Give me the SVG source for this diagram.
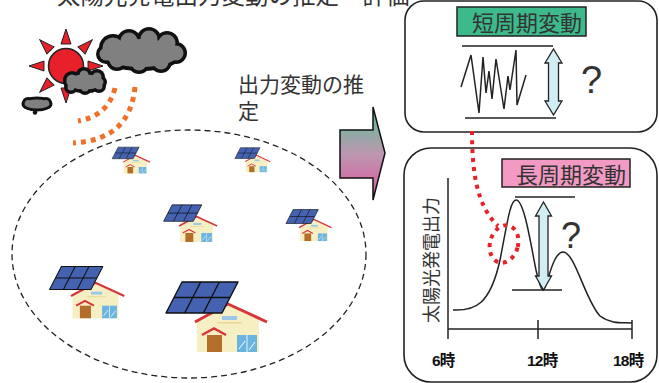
<svg xmlns="http://www.w3.org/2000/svg" xmlns:xlink="http://www.w3.org/1999/xlink" width="659" height="383" viewBox="0 0 659 383">
  <style>
    .jp { font-family: "Noto Sans CJK JP", "Noto Sans", sans-serif; fill: #333; }
    .box { fill: #fff; stroke: #222; stroke-width: 1.6; }
    .ln { stroke: #222; stroke-width: 1.5; fill: none; }
    .dbl { fill: #d3edf4; stroke: #222; stroke-width: 1.3; stroke-linejoin: miter; }
    .q { font-family: "Liberation Sans", "DejaVu Sans", sans-serif; fill: #333; }
    .tm { font-family: "Liberation Sans", "Noto Sans CJK JP", sans-serif; font-weight: bold; font-size: 15.5px; fill: #111; letter-spacing: -0.8px; }
    .cloud-o { fill: #111; }
    .cloud-f { fill: #808080; }
    .ray { fill: #e8202a; stroke: #222; stroke-width: 1; stroke-linejoin: miter; }
    .light { fill: none; stroke: #f07028; stroke-width: 5; stroke-dasharray: 5 5; }
    .red-dot { fill: none; stroke: #e8202a; stroke-width: 4; stroke-dasharray: 4 5; }
  </style>
  <defs>
    <linearGradient id="arrowGrad" x1="0" y1="0" x2="0" y2="1">
      <stop offset="0" stop-color="#55bf94"/>
      <stop offset="0.5" stop-color="#bc98b0"/>
      <stop offset="1" stop-color="#dc559f"/>
    </linearGradient>
    <!-- house with rooftop solar panel, drawn at full size (house 72 x 49) -->
    <g id="house">
      <polygon points="2,18 33,2 64,17 64,49 2,49" fill="#f7efc4"/>
      <rect x="22" y="19" width="25" height="1.6" fill="#eadb98"/>
      <rect x="27" y="13" width="15" height="4" fill="#9cc8e8"/>
      <polyline points="0,19 33,1 72,19" fill="none" stroke="#d8353a" stroke-width="3" stroke-linejoin="round"/>
      <rect x="12" y="32" width="15" height="17" fill="#b36e2a"/>
      <polyline points="7,32 19,25.5 31,32" fill="none" stroke="#d8353a" stroke-width="2.5"/>
      <rect x="42" y="32" width="20" height="17" fill="#6cb4e0"/>
      <line x1="52" y1="32" x2="52" y2="49" stroke="#e8f4fb" stroke-width="1"/>
      <line x1="44" y1="46" x2="50" y2="38" stroke="#fff" stroke-width="1"/>
      <line x1="54" y1="47" x2="60" y2="39" stroke="#fff" stroke-width="1"/>
      <polygon points="-13,-21 43,-21 27,10 -29,10" fill="#4462b0" stroke="#111" stroke-width="1.4" stroke-linejoin="round"/>
      <line x1="5.67" y1="-21" x2="-10.33" y2="10" stroke="#111" stroke-width="1.4"/>
      <line x1="24.33" y1="-21" x2="8.33" y2="10" stroke="#111" stroke-width="1.4"/>
      <line x1="-21" y1="-5.5" x2="35" y2="-5.5" stroke="#111" stroke-width="1.4"/>
    </g>
  </defs>

  <rect width="659" height="383" fill="#fff"/>

  <!-- title line, clipped by the top edge -->
  <g id="title">
    <text class="jp" x="57" y="3.5" font-size="23.5">太陽光発電出力変動の推定・評価</text>
  </g>

  <!-- sun, clouds and light rays -->
  <g id="weather">
    <g id="sun">
      <polygon class="ray" points="66,29 61,44 71,44"/>
      <polygon class="ray" points="66,29 61,44 71,44" transform="rotate(45 66 66)"/>
      <polygon class="ray" points="66,29 61,44 71,44" transform="rotate(90 66 66)"/>
      <polygon class="ray" points="66,29 61,44 71,44" transform="rotate(135 66 66)"/>
      <polygon class="ray" points="66,29 61,44 71,44" transform="rotate(180 66 66)"/>
      <polygon class="ray" points="66,29 61,44 71,44" transform="rotate(225 66 66)"/>
      <polygon class="ray" points="66,29 61,44 71,44" transform="rotate(270 66 66)"/>
      <polygon class="ray" points="66,29 61,44 71,44" transform="rotate(315 66 66)"/>
      <circle cx="66" cy="66" r="17.5" fill="#e8202a" stroke="#222" stroke-width="1.5"/>
    </g>
    <g id="cloud-big">
      <g class="cloud-o">
        <ellipse cx="141" cy="53" rx="43" ry="18"/>
        <circle cx="113" cy="48" r="14"/>
        <circle cx="129" cy="41" r="12"/>
        <circle cx="149" cy="39" r="12"/>
        <circle cx="167" cy="43" r="12"/>
        <circle cx="176" cy="53" r="11"/>
        <circle cx="161" cy="62" r="11"/>
        <circle cx="139" cy="63" r="11"/>
        <circle cx="117" cy="60" r="11"/>
        <circle cx="106" cy="54" r="10"/>
      </g>
      <g class="cloud-f">
        <ellipse cx="141" cy="53" rx="39" ry="14"/>
        <circle cx="113" cy="48" r="10.5"/>
        <circle cx="129" cy="41" r="8.5"/>
        <circle cx="149" cy="39" r="8.5"/>
        <circle cx="167" cy="43" r="8.5"/>
        <circle cx="176" cy="53" r="7.5"/>
        <circle cx="161" cy="62" r="7.5"/>
        <circle cx="139" cy="63" r="7.5"/>
        <circle cx="117" cy="60" r="7.5"/>
        <circle cx="106" cy="54" r="6.5"/>
      </g>
    </g>
    <g id="cloud-small">
      <g class="cloud-o">
        <ellipse cx="85" cy="82" rx="22" ry="11"/>
        <circle cx="72" cy="80" r="9"/>
        <circle cx="84" cy="75" r="8"/>
        <circle cx="97" cy="77" r="8"/>
        <circle cx="99" cy="86" r="7"/>
        <circle cx="85" cy="88" r="7"/>
        <circle cx="71" cy="87" r="7"/>
      </g>
      <g class="cloud-f">
        <ellipse cx="85" cy="82" rx="18.5" ry="7.5"/>
        <circle cx="72" cy="80" r="5.5"/>
        <circle cx="84" cy="75" r="4.5"/>
        <circle cx="97" cy="77" r="4.5"/>
        <circle cx="99" cy="86" r="3.5"/>
        <circle cx="85" cy="88" r="3.5"/>
        <circle cx="71" cy="87" r="3.5"/>
      </g>
    </g>
    <g id="cloud-tiny">
      <g class="cloud-o">
        <ellipse cx="37" cy="104" rx="15.5" ry="7.5"/>
        <circle cx="28" cy="103" r="6"/>
        <circle cx="46" cy="103" r="6"/>
        <circle cx="35" cy="112.5" r="2.2"/>
      </g>
      <g class="cloud-f">
        <ellipse cx="37" cy="104" rx="12.5" ry="4.5"/>
        <circle cx="28" cy="103" r="3"/>
        <circle cx="46" cy="103" r="3"/>
      </g>
    </g>
    <path class="light" d="M115,88 Q108,116 78,121"/>
    <path class="light" d="M135,87 Q130,140 73,143"/>
  </g>

  <!-- estimate label -->
  <g id="estimate-label">
    <text class="jp" x="238" y="92" font-size="21">出力変動の推</text>
    <text class="jp" x="238" y="119" font-size="21">定</text>
  </g>

  <!-- area with houses -->
  <g id="area">
    <ellipse cx="189" cy="254" rx="177" ry="124" fill="none" stroke="#222" stroke-width="1.3" stroke-dasharray="6 4"/>
    <use id="house-1" xlink:href="#house" transform="translate(123,155) scale(0.375)"/>
    <use id="house-2" xlink:href="#house" transform="translate(245,155) scale(0.35)"/>
    <use id="house-3" xlink:href="#house" transform="translate(179,216) scale(0.53)"/>
    <use id="house-4" xlink:href="#house" transform="translate(299,219) scale(0.45)"/>
    <use id="house-5" xlink:href="#house" transform="translate(71,282) scale(0.74)"/>
    <use id="house-6" xlink:href="#house" transform="translate(195,303) scale(1)"/>
  </g>

  <!-- block arrow -->
  <g id="block-arrow">
    <polygon points="340,130 373,130 373,107 385,153 373,200 373,178 340,178" fill="url(#arrowGrad)" stroke="#111" stroke-width="1.5" stroke-linejoin="miter"/>
  </g>

  <!-- short-period fluctuation panel -->
  <g id="short-term">
    <rect class="box" x="405" y="1" width="252" height="131" rx="19"/>
    <rect x="457" y="7" width="129" height="29" fill="#3dba8c" stroke="#222" stroke-width="1.5"/>
    <text class="jp" x="472" y="31" font-size="22">短周期変動</text>
    <line class="ln" x1="462" y1="46" x2="553" y2="46"/>
    <line class="ln" x1="465" y1="118" x2="556" y2="118"/>
    <polyline class="ln" stroke-linejoin="miter" points="461,87 471,55 479,113 483,57 486,93 489,71 492,99 496,59 504,109 508,76 510,90 516,50 517,105 526,75"/>
    <polygon class="dbl" points="553.5,49 562,63 558.5,63 558.5,101 562,101 553.5,115 545,101 548.5,101 548.5,63 545,63"/>
    <text class="q" x="581" y="93" font-size="38">?</text>
  </g>

  <!-- long-period fluctuation panel -->
  <g id="long-term">
    <rect class="box" x="404" y="148" width="253" height="234" rx="27"/>
    <rect x="502" y="159" width="128" height="28" fill="#f39ac4" stroke="#222" stroke-width="1.5"/>
    <text class="jp" x="516" y="183" font-size="22">長周期変動</text>
    <text class="jp" font-size="18" text-anchor="middle" transform="translate(438,260) rotate(-90)">太陽光発電出力</text>
    <line class="ln" x1="448" y1="178" x2="448" y2="339"/>
    <line class="ln" x1="448" y1="329" x2="632" y2="329"/>
    <line class="ln" x1="538" y1="320" x2="538" y2="339"/>
    <line class="ln" x1="632" y1="320" x2="632" y2="339"/>
    <path class="ln" d="M453,310 C475,311 490,305 500,260 C507,225 510,200 516,200 C524,200 530,240 536,270 C539,283 541,290 543,290 C547,290 552,252 563,252 C575,252 585,300 600,316 C612,325 625,322 632,323"/>
    <line class="ln" x1="515" y1="197" x2="575" y2="197"/>
    <line class="ln" x1="512" y1="290" x2="562" y2="290"/>
    <polygon class="dbl" points="543.5,202 551.5,216 548,216 548,276 551.5,276 543.5,290 535.5,276 539,276 539,216 535.5,216"/>
    <text class="q" x="561" y="248" font-size="36">?</text>
    <text class="tm" x="432" y="366">6時</text>
    <text class="tm" x="527" y="366">12時</text>
    <text class="tm" x="613" y="366">18時</text>
  </g>

  <!-- connectors -->
  <g id="connectors">
    <path class="red-dot" d="M472,131 C472,170 476,205 498,226"/>
    <ellipse class="red-dot" cx="504" cy="244" rx="14" ry="19" transform="rotate(15 504 244)"/>
  </g>
</svg>
